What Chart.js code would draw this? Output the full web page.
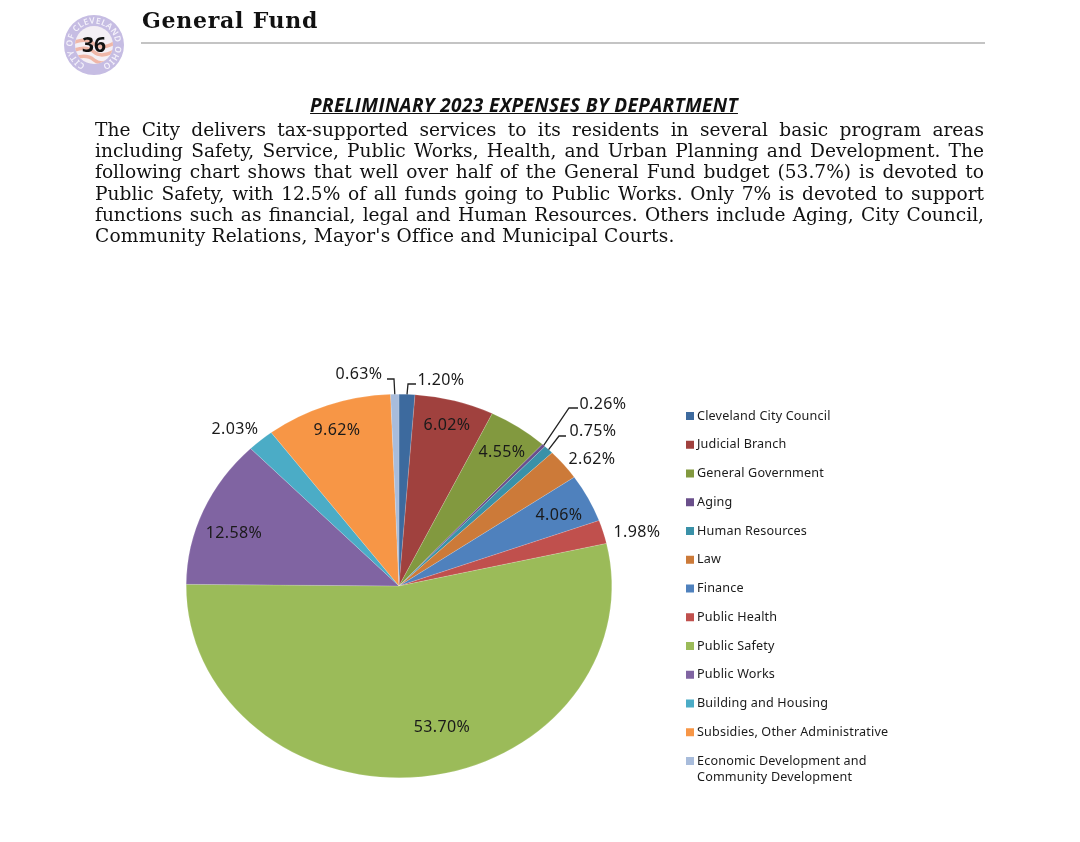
<!DOCTYPE html>
<html lang="en">
  <head>
    <meta charset="UTF-8" />
    <title>Preliminary 2023 Expenses by Department</title>
    <style>
      html, body { margin: 0; padding: 0; background: #fff; }
      body { width: 1080px; height: 842px; position: relative; overflow: hidden; }
      #myChart { position: absolute; left: 0; top: 0; }
      #badge { position: absolute; left: 60px; top: 11px; }
      #head {
        position: absolute; left: 142px; top: 7px;
        font: bold 22px "DejaVu Serif", serif; letter-spacing: 0.75px; color: #111;
      }
      #rule { position: absolute; left: 141px; top: 42px; width: 844px; height: 2px; background: #c4c4c4; }
      #title {
        position: absolute; left: 224px; top: 92px; width: 600px; text-align: center;
        font: italic bold 19px "Open Sans", sans-serif; letter-spacing: 0.38px;
        text-decoration: underline; color: #111;
      }
      #para {
        position: absolute; left: 95px; top: 119px; width: 889px;
        font: 18.6px/21.2px "DejaVu Serif", serif; color: #111;
      }
      #para div { text-align: justify; text-align-last: justify; white-space: nowrap; }
      #para div:last-child { text-align-last: left; letter-spacing: 0.2px; }
    </style>
  </head>

  <body>
    <canvas id="myChart" width="1080" height="842"></canvas>

    <svg id="badge" width="68" height="68" viewBox="0 0 68 68">
      <defs>
        <path id="ring" d="M 34 55.5 A 21.5 21.5 0 1 1 34.01 55.5" fill="none" />
        <clipPath id="inner"><circle cx="34" cy="34" r="19" /></clipPath>
      </defs>
      <circle cx="34" cy="34" r="30" fill="#c6bde3" />
      <circle cx="34" cy="34" r="19" fill="#f4eff5" />
      <g clip-path="url(#inner)" fill="none" stroke="#efb7a8" stroke-width="3.5">
        <path d="M12 32 Q26 26 34 33 T58 30" />
        <path d="M12 40 Q26 34 34 41 T58 38" />
        <path d="M12 48 Q26 42 34 49 T58 46" />
      </g>
      <text font-family="Noto Sans" font-size="8.5" font-weight="600" fill="#f4f1fa">
        <textPath href="#ring" startOffset="9" textLength="117">CITY OF CLEVELAND OHIO</textPath>
      </text>
      <text x="34" y="41" text-anchor="middle" font-family="Open Sans" font-weight="bold" font-size="21" fill="#111">36</text>
    </svg>

    <div id="head">General Fund</div>
    <div id="rule"></div>
    <div id="title">PRELIMINARY 2023 EXPENSES BY DEPARTMENT</div>
    <div id="para">
      <div>The City delivers tax-supported services to its residents in several basic program areas</div>
      <div>including Safety, Service, Public Works, Health, and Urban Planning and Development. The</div>
      <div>following chart shows that well over half of the General Fund budget (53.7%) is devoted to</div>
      <div>Public Safety, with 12.5% of all funds going to Public Works. Only 7% is devoted to support</div>
      <div>functions such as financial, legal and Human Resources. Others include Aging, City Council,</div>
      <div>Community Relations, Mayor's Office and Municipal Courts.</div>
    </div>

    <script src="https://cdn.jsdelivr.net/npm/chart.js"></script>
    <script>
      const departments = [
        "Cleveland City Council",
        "Judicial Branch",
        "General Government",
        "Aging",
        "Human Resources",
        "Law",
        "Finance",
        "Public Health",
        "Public Safety",
        "Public Works",
        "Building and Housing",
        "Subsidies, Other Administrative",
        "Economic Development and\nCommunity Development",
      ];
      const shares = [1.2, 6.02, 4.55, 0.26, 0.75, 2.62, 4.06, 1.98, 53.7, 12.58, 2.03, 9.62, 0.63];
      const colors = [
        "#3d6a9e", "#a0413e", "#82993f", "#6a4f8b", "#3a91a8", "#cc7a39", "#4f81bd",
        "#c0504d", "#9bbb59", "#8064a2", "#4bacc6", "#f79646", "#a8bcdb",
      ];

      // where each percent label sits, centre of the text
      const labelPos = [
        [441, 380], [447, 425], [502, 452], [603, 404], [593, 431], [592, 459], [559, 515],
        [637, 532], [442, 727], [234, 533], [235, 429], [337, 430], [359, 374],
      ];
      // leader lines: slice index -> end at the label, then the elbow
      const leaders = {
        0: [[416, 384], [408, 384]],
        3: [[578, 408], [569, 408]],
        4: [[566, 436], [559, 436]],
        12: [[387, 379], [394, 379]],
      };

      const squash = 192 / 213; // the pie in the original is stretched wide

      const ellipsePie = {
        id: "ellipsePie",
        beforeDatasetDraw(chart) {
          const a = chart.getDatasetMeta(0).data[0];
          chart.ctx.save();
          chart.ctx.translate(0, a.y);
          chart.ctx.scale(1, squash);
          chart.ctx.translate(0, -a.y);
        },
        afterDatasetDraw(chart) {
          chart.ctx.restore();
        },
      };

      const pieLabels = {
        id: "pieLabels",
        afterDraw(chart) {
          const ctx = chart.ctx;
          const arcs = chart.getDatasetMeta(0).data;

          ctx.save();
          ctx.strokeStyle = "#222";
          ctx.lineWidth = 1.3;
          for (const i in leaders) {
            const a = arcs[i];
            const mid = (a.startAngle + a.endAngle) / 2;
            ctx.beginPath();
            ctx.moveTo(leaders[i][0][0], leaders[i][0][1]);
            ctx.lineTo(leaders[i][1][0], leaders[i][1][1]);
            ctx.lineTo(a.x + Math.cos(mid) * a.outerRadius, a.y + Math.sin(mid) * a.outerRadius * squash);
            ctx.stroke();
          }

          ctx.font = '16px "Noto Sans"';
          ctx.letterSpacing = "0.4px";
          ctx.fillStyle = "#1a1a1a";
          ctx.textAlign = "center";
          ctx.textBaseline = "middle";
          shares.forEach((v, i) => {
            ctx.fillText(v.toFixed(2) + "%", labelPos[i][0], labelPos[i][1]);
          });

          // legend, Excel style: small square and a wide spaced column
          ctx.font = '12.6px "Noto Sans"';
          ctx.letterSpacing = "0.17px";
          ctx.textAlign = "left";
          departments.forEach((name, i) => {
            const y = 416 + i * 28.75;
            ctx.fillStyle = colors[i];
            ctx.fillRect(686, y - 4, 8, 8);
            ctx.fillStyle = "#1a1a1a";
            name.split("\n").forEach((line, j) => {
              ctx.fillText(line, 697, y + j * 16);
            });
          });
          ctx.restore();
        },
      };

      new Chart(document.getElementById("myChart"), {
        type: "pie",
        data: {
          labels: departments,
          datasets: [
            {
              data: shares,
              backgroundColor: colors,
              borderColor: "rgba(255,255,255,0.4)",
              borderWidth: 0.4,
            },
          ],
        },
        options: {
          responsive: false,
          animation: false,
          devicePixelRatio: 1,
          layout: { padding: { left: 186, right: 468, top: 373, bottom: 43 } },
          plugins: {
            legend: { display: false },
            tooltip: { enabled: false },
          },
        },
        plugins: [ellipsePie, pieLabels],
      });
    </script>
  </body>
</html>
